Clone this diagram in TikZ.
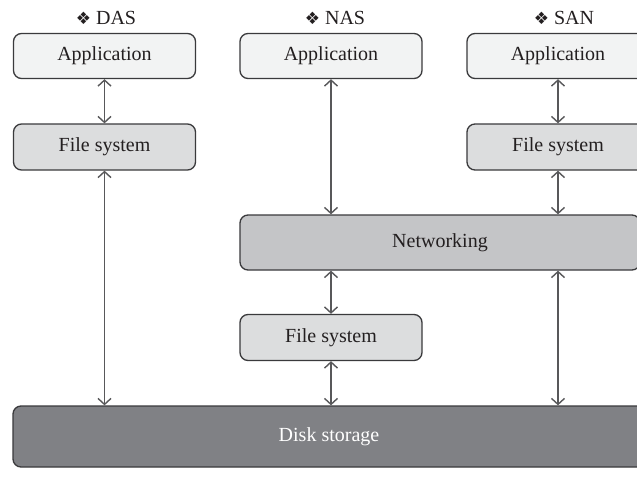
\documentclass[tikz,border=0pt]{standalone}
\usepackage{fontspec}
\setmainfont{Liberation Serif}
\newfontfamily\symfont{DejaVu Sans}
\usetikzlibrary{arrows.meta}
\definecolor{appfill}{HTML}{F2F3F3}
\definecolor{fsfill}{HTML}{DCDDDE}
\definecolor{netfill}{HTML}{C4C5C7}
\definecolor{diskfill}{HTML}{808185}
\definecolor{edgecol}{HTML}{3A3A3C}
\definecolor{arrcol}{HTML}{58585A}
\definecolor{txtcol}{HTML}{231F20}
\tikzset{
  box/.style={draw=edgecol, line width=1.3pt, rounded corners=8pt, text=txtcol,
    inner sep=0pt, font=\fontsize{20}{22}\selectfont},
  appbox/.style={box, fill=appfill, minimum width=182pt, minimum height=45pt},
  fsbox/.style={box, fill=fsfill, minimum width=182pt, minimum height=46pt},
  netbox/.style={box, fill=netfill, minimum width=400pt, minimum height=55pt},
  diskbox/.style={box, fill=diskfill, minimum width=632pt, minimum height=61pt, text=white},
  conn/.style={draw=arrcol, line width=1.4pt, {Straight Barb[length=6pt,width=13pt]}-{Straight Barb[length=6pt,width=13pt]}},
  lbl/.style={text=txtcol, inner sep=0pt, font=\fontsize{20}{22}\selectfont}
}
\begin{document}
\begin{tikzpicture}[x=1pt,y=-1pt]
\clip (0,0) rectangle (637,477);
\fill[white] (0,0) rectangle (637,477);
\node[lbl] (ldas) at (106,18) {{\symfont\fontsize{17}{18}\selectfont ❖} DAS};
\node[lbl] (lnas) at (335,18) {{\symfont\fontsize{17}{18}\selectfont ❖} NAS};
\node[lbl] (lsan) at (564,18) {{\symfont\fontsize{17}{18}\selectfont ❖} SAN};
\node[appbox] (dasapp) at (104.5,56) {Application};
\node[appbox] (nasapp) at (331,56) {Application};
\node[appbox] (sanapp) at (558,56) {Application};
\node[fsbox] (dasfs) at (104.5,147) {File system};
\node[fsbox] (sanfs) at (558,147) {File system};
\node[netbox] (net) at (440,242.5) {Networking};
\node[fsbox] (nasfs) at (331,337.5) {File system};
\node[diskbox] (disk) at (329,436.5) {Disk storage};
\draw[conn] (dasapp.south) -- (dasfs.north);
\draw[conn] (dasfs.south) -- (dasfs.south |- disk.north);
\draw[conn] (nasapp.south) -- (nasapp.south |- net.north);
\draw[conn] (nasfs.north |- net.south) -- (nasfs.north);
\draw[conn] (nasfs.south) -- (nasfs.south |- disk.north);
\draw[conn] (sanapp.south) -- (sanfs.north);
\draw[conn] (sanfs.south) -- (sanfs.south |- net.north);
\draw[conn] (sanfs.south |- net.south) -- (sanfs.south |- disk.north);
\end{tikzpicture}
\end{document}
